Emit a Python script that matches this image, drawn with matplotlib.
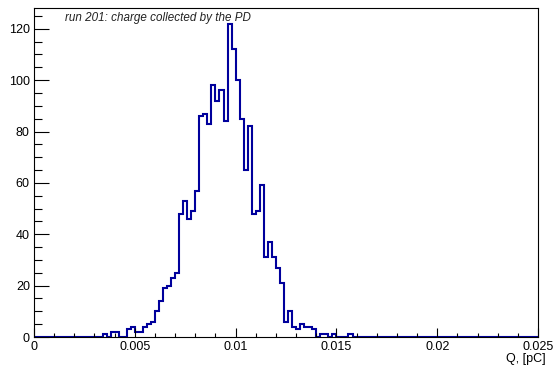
import numpy as np
import matplotlib
matplotlib.use("Agg")
import matplotlib.pyplot as plt
from matplotlib.ticker import MultipleLocator

plt.rcParams["font.family"] = ["Liberation Sans", "DejaVu Sans"]

TITLE = "run 201: charge collected by the PD"
X_LABEL = "Q, [pC]"

# histogram: 125 bins of 0.0002 pC from 0 to 0.025
N_BINS = 125
X_MIN, X_MAX = 0.0, 0.025

# bin contents (bin index -> count, others empty)
BIN_INDEX = [17, 19, 20, 23, 24, 25, 26, 27, 28, 29,
             30, 31, 32, 33, 34, 35, 36, 37, 38, 39,
             40, 41, 42, 43, 44, 45, 46, 47, 48, 49,
             50, 51, 52, 53, 54, 55, 56, 57, 58, 59,
             60, 61, 62, 63, 64, 65, 66, 67, 68, 69,
             71, 72, 74, 78]
BIN_COUNT = [1, 2, 2, 3, 4, 2, 2, 4, 5, 6,
             10, 14, 19, 20, 23, 25, 48, 53, 46, 49,
             57, 86, 87, 83, 98, 92, 96, 84, 122, 112,
             100, 85, 65, 82, 48, 49, 59, 31, 37, 31,
             27, 21, 6, 10, 4, 3, 5, 4, 4, 3,
             1, 1, 1, 1]

edges = np.linspace(X_MIN, X_MAX, N_BINS + 1)
counts = np.zeros(N_BINS)
counts[BIN_INDEX] = BIN_COUNT

fig = plt.figure(figsize=(5.56, 3.66), dpi=100)
ax = fig.add_axes([34 / 556, 1 - 337 / 366, 504 / 556, 329 / 366])

ax.stairs(counts, edges, color="#00009c", linewidth=1.5, baseline=0)

ax.set_xlim(X_MIN, X_MAX)
ax.set_ylim(0, 1.05 * counts.max())

ax.xaxis.set_major_locator(MultipleLocator(0.005))
ax.xaxis.set_minor_locator(MultipleLocator(0.001))
ax.yaxis.set_major_locator(MultipleLocator(20))
ax.yaxis.set_minor_locator(MultipleLocator(5))
ax.xaxis.set_major_formatter(plt.FuncFormatter(lambda v, p: "0" if v == 0 else f"{v:g}"))

ax.tick_params(axis="x", which="major", length=6.5, width=0.8, direction="in",
               labelsize=9, pad=3)
ax.tick_params(axis="x", which="minor", length=3.2, width=0.8, direction="in")
ax.tick_params(axis="y", which="major", length=10.5, width=0.8, direction="in",
               labelsize=9, pad=3)
ax.tick_params(axis="y", which="minor", length=5.5, width=0.8, direction="in")

for s in ax.spines.values():
    s.set_linewidth(0.8)

fig.text(65 / 556, 1 - 18 / 366, TITLE, fontsize=8.4, style="italic",
         ha="left", va="center", color="#222222")
fig.text(546 / 556, 1 - 359 / 366, X_LABEL, fontsize=9, ha="right", va="center")

fig.savefig("out.png", dpi=100)
